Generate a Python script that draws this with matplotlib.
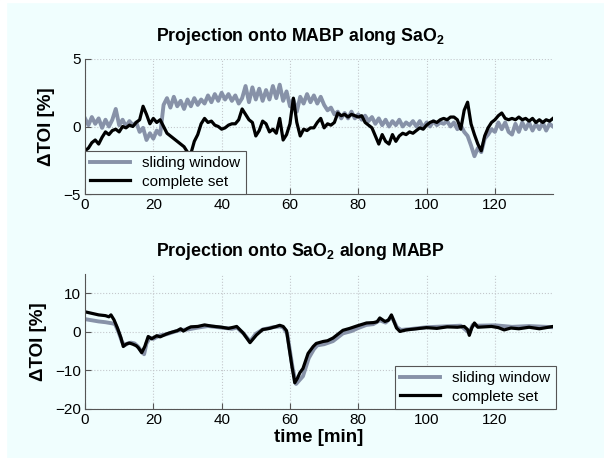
import matplotlib
matplotlib.use('Agg')
import matplotlib.pyplot as plt
from matplotlib.patches import Rectangle

# top panel: one value per minute, 0..137
t_top = list(range(138))
sw_top = [0.6, 0.1, 0.7, 0.2, 0.6, -0.1, 0.5, 0.0, 0.5, 1.3,
          0.1, 0.5, 0.0, 0.4, 0.1, 0.3, -0.4, -0.1, -1.0, -0.5,
          -0.9, -0.3, -0.6, 1.6, 2.1, 1.4, 2.2, 1.5, 1.9, 1.3,
          2.0, 1.5, 2.1, 1.6, 2.0, 1.7, 2.3, 1.8, 2.4, 1.9,
          2.5, 2.0, 2.4, 1.9, 2.3, 1.7, 2.1, 3.0, 1.8, 2.9,
          2.0, 2.8, 1.9, 2.7, 2.0, 3.0, 2.1, 3.1, 1.9, 2.6,
          1.5, 2.0, 1.1, 2.2, 1.7, 2.4, 1.8, 2.3, 1.7, 2.2,
          1.6, 1.2, 1.4, 0.9, 1.1, 0.6, 1.0, 0.6, 1.1, 0.6,
          0.9, 0.5, 0.8, 0.4, 0.7, 0.2, 0.6, 0.1, 0.5, 0.0,
          0.4, 0.1, 0.5, 0.0, 0.3, 0.1, 0.4, 0.0, 0.4, -0.1,
          0.3, 0.0, 0.4, 0.1, 0.3, 0.2, 0.4, 0.0, 0.3, -0.2,
          0.1, -0.4, -0.7, -1.4, -2.2, -1.6, -1.9, -0.9, -0.6, -0.2,
          -0.4, 0.3, -0.2, 0.3, -0.4, -0.6, 0.2, -0.4, 0.3, -0.2,
          0.3, -0.3, 0.2, -0.2, 0.3, -0.3, 0.2, 0.0]
cs_top = [-1.8, -1.6, -1.2, -1.0, -1.3, -0.8, -0.4, -0.6, -0.3, -0.2,
          -0.4, 0.0, -0.1, 0.1, 0.0, 0.3, 0.5, 1.5, 0.9, 0.2,
          0.6, 0.3, 0.5, 0.0, -0.5, -0.7, -0.9, -1.1, -1.3, -1.5,
          -1.9, -2.0, -1.1, -0.6, 0.2, 0.6, 0.3, 0.4, 0.1, 0.0,
          -0.2, -0.1, 0.1, 0.2, 0.2, 0.5, 1.3, 0.9, 0.5, 0.3,
          -0.7, -0.3, 0.4, 0.2, -0.4, -0.2, -0.5, 0.6, -1.0, -0.6,
          0.2, 2.1, 0.3, -0.7, -0.2, -0.3, -0.1, -0.1, 0.3, 0.6,
          -0.1, 0.2, 0.1, 0.3, 1.0, 0.8, 0.9, 0.7, 0.9, 0.8,
          0.7, 0.8, 0.3, 0.1, -0.1, -0.7, -1.3, -0.6, -1.1, -1.3,
          -0.6, -1.1, -0.7, -0.5, -0.6, -0.4, -0.5, -0.3, -0.1, -0.2,
          0.1, 0.3, 0.4, 0.3, 0.5, 0.6, 0.5, 0.7, 0.7, 0.5,
          -0.2, 1.2, 1.8, 0.2, -0.6, -1.3, -1.8, -0.7, -0.1, 0.3,
          0.5, 0.8, 1.0, 0.6, 0.5, 0.6, 0.5, 0.7, 0.5, 0.6,
          0.4, 0.6, 0.3, 0.5, 0.3, 0.5, 0.4, 0.6]

# bottom panel: breakpoints
t_sw_bot = [0, 2, 4, 6, 8, 8.8, 9.8, 10.8, 11.6, 12.5,
            13.5, 14.5, 15.5, 16.5, 17.3, 18, 19, 20, 22, 24,
            26, 28, 30, 33, 36, 40, 43, 44.5, 46.5, 48.3,
            50, 52, 55, 57, 58, 59.2, 60.8, 61.8, 62.8, 63.8,
            65.5, 67, 68, 70, 72.6, 75.5, 78, 80, 82.4, 84.4,
            86.3, 88, 89.8, 91.3, 92.5, 95, 100, 105, 110, 112.5,
            113.5, 115, 120, 125, 130, 135, 137]
sw_bot = [3.3, 3.0, 2.7, 2.5, 2.2, 2.0, 0.0, -2.5, -3.5, -3.0,
          -2.8, -3.0, -3.8, -5.0, -5.8, -3.0, -1.5, -1.8, -0.9, -0.6,
          0.0, 0.5, 0.6, 1.1, 1.5, 1.1, 0.8, 1.1, -0.5, -2.5,
          -0.5, 0.6, 1.2, 1.4, 1.2, -0.5, -9.5, -13.5, -12.5, -11.5,
          -6.8, -4.5, -3.5, -3.2, -2.4, -0.4, 0.2, 1.0, 1.8, 2.0,
          3.0, 2.4, 3.9, 1.2, 0.5, 0.7, 1.2, 1.4, 1.6, -0.3,
          1.8, 1.6, 1.7, 1.3, 1.5, 1.3, 1.2]
t_cs_bot = [0, 2, 4, 6, 7, 7.6, 8.5, 9.5, 10.5, 11.2,
            12, 13, 14, 15, 15.6, 16.6, 17.5, 18.5, 19.5, 21,
            22, 24, 25, 27, 28, 28.8, 30, 31, 33, 35,
            37, 40, 42, 43.5, 44.4, 46.3, 48.3, 50.2, 52, 54,
            56, 57, 58, 59, 60.5, 61.4, 62.2, 62.9, 63.8, 65.3,
            66.8, 67.7, 69.7, 71, 72.6, 75.5, 77.5, 79.5, 82.4, 84.4,
            85.5, 86.3, 87.8, 88.8, 89.7, 91.2, 92.2, 94, 97, 100,
            103, 106, 109, 111, 112, 112.5, 113.2, 114, 115, 117,
            119, 121, 122.7, 124.7, 127, 130, 133, 135, 137]
cs_bot = [5.2, 4.8, 4.4, 4.2, 3.9, 4.4, 3.1, 1.0, -1.5, -3.8,
          -3.2, -2.9, -3.2, -3.6, -4.1, -5.4, -3.8, -1.2, -1.8, -1.0,
          -1.3, -0.5, -0.2, 0.3, 0.8, 0.2, 0.9, 1.3, 1.4, 1.8,
          1.5, 1.2, 0.9, 1.2, 1.4, -0.3, -2.8, -0.8, 0.6, 0.9,
          1.4, 1.7, 1.4, 0.3, -8.5, -13.2, -12.0, -10.6, -9.5, -5.6,
          -3.8, -3.0, -2.5, -2.3, -1.6, 0.4, 0.9, 1.5, 2.3, 2.4,
          2.6, 3.6, 2.7, 3.0, 4.4, 1.0, 0.1, 0.5, 0.8, 1.1,
          0.9, 1.3, 1.2, 1.4, 0.6, -0.9, 1.0, 2.3, 1.2, 1.3,
          1.4, 1.1, 0.5, 1.0, 0.8, 1.2, 0.8, 1.1, 1.4]

xticks = [0, 20, 40, 60, 80, 100, 120]
labels = ['sliding window', 'complete set']

bg = '#f0fefe'
gray = '#8792a8'
plt.rcParams['font.family'] = ['Liberation Sans', 'DejaVu Sans']
plt.rcParams['mathtext.fontset'] = 'custom'
plt.rcParams['mathtext.rm'] = 'Liberation Sans:bold'
plt.rcParams['mathtext.it'] = 'Liberation Sans:bold'
plt.rcParams['mathtext.bf'] = 'Liberation Sans:bold'

fig = plt.figure(figsize=(6.04, 4.58), dpi=100, facecolor=bg)
fig.patches.append(Rectangle((0, 0), 6/604, 1, transform=fig.transFigure, color='white', zorder=-1))
fig.patches.append(Rectangle((0, 1-2/458), 1, 2/458, transform=fig.transFigure, color='white', zorder=-1))

ax1 = fig.add_axes([85/604, 264/458, 468/604, 135/458])
ax2 = fig.add_axes([85/604, 49/458, 468/604, 135/458])

panels = [
    (ax1, t_top, sw_top, t_top, cs_top, (-5, 5), [-5, 0, 5], 'Projection onto MABP along SaO$_2$'),
    (ax2, t_sw_bot, sw_bot, t_cs_bot, cs_bot, (-20, 15), [-20, -10, 0, 10], 'Projection onto SaO$_2$ along MABP'),
]
for ax, ts, ys, tc, yc, ylim, yt, title in panels:
    ax.set_facecolor(bg)
    ax.plot(ts, ys, color=gray, lw=2.8, label=labels[0])
    ax.plot(tc, yc, color='black', lw=2.3, label=labels[1])
    ax.set_xlim(0, 137)
    ax.set_ylim(*ylim)
    ax.set_xticks(xticks)
    ax.set_yticks(yt)
    ax.grid(True, ls=':', color='#c4c8cc', lw=0.8)
    for s in ['top', 'right']:
        ax.spines[s].set_visible(False)
    for s in ['left', 'bottom']:
        ax.spines[s].set_color('#555555')
    ax.tick_params(direction='in', length=4, labelsize=11, color='#555555', pad=3)
    ax.set_ylabel('ΔTOI [%]', fontsize=13.5, fontweight='bold', labelpad=6)
    ax.set_title(title, fontsize=12.8, fontweight='bold', pad=13, x=0.46)

leg_kw = dict(fontsize=11, handlelength=2.6, fancybox=False, framealpha=1, facecolor=bg,
              edgecolor='#555555', borderaxespad=0, borderpad=0.35, labelspacing=0.3)
l1 = ax1.legend(loc='lower left', **leg_kw)
l2 = ax2.legend(loc='lower right', bbox_to_anchor=(1.006, 0), **leg_kw)
for l in (l1, l2):
    l.get_frame().set_linewidth(0.8)

ax2.set_xlabel('time [min]', fontsize=13.5, fontweight='bold', labelpad=1)

fig.savefig('out.png', dpi=100, facecolor=bg)
